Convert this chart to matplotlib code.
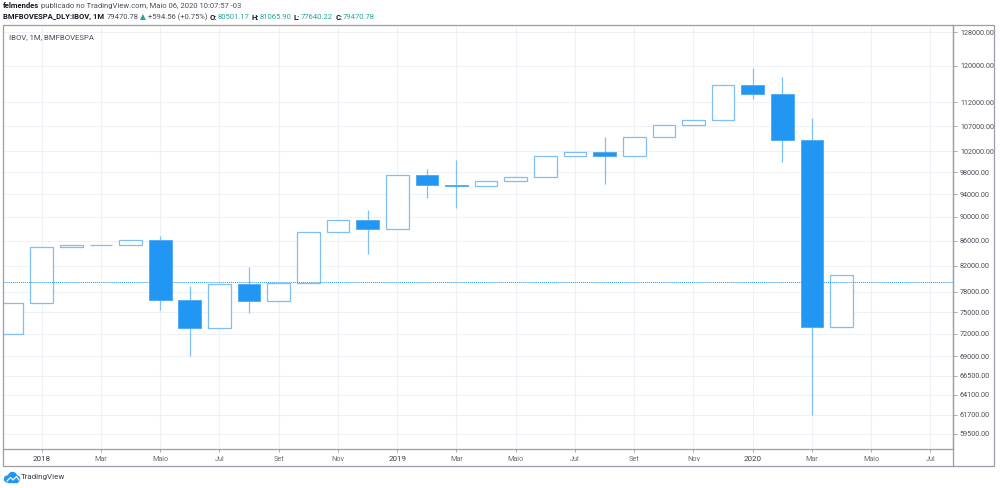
import matplotlib
matplotlib.use('Agg')
import matplotlib.pyplot as plt
from matplotlib.ticker import NullLocator, FixedLocator, FixedFormatter
from matplotlib.transforms import IdentityTransform
from matplotlib.patches import Rectangle, Circle
from matplotlib.lines import Line2D

plt.rcParams['font.family'] = ['Roboto', 'DejaVu Sans']

# monthly IBOV candles, Dec 2017 .. Apr 2020
months = ['2017-12', '2018-01', '2018-02', '2018-03', '2018-04', '2018-05', '2018-06',
          '2018-07', '2018-08', '2018-09', '2018-10', '2018-11', '2018-12', '2019-01',
          '2019-02', '2019-03', '2019-04', '2019-05', '2019-06', '2019-07', '2019-08',
          '2019-09', '2019-10', '2019-11', '2019-12', '2020-01', '2020-02', '2020-03',
          '2020-04']
opens = [71970, 76400, 84910, 85350, 85370, 86120, 76750, 72760, 79220, 76680,
         79340, 87420, 89500, 87890, 97390, 95580, 95410, 96350, 97030, 100970,
         101810, 101130, 104750, 107220, 108230, 115650, 113760, 104170, 73020]
closes = [76400, 84910, 85350, 85370, 86120, 76750, 72760, 79220, 76680, 79340,
          87420, 89500, 87890, 97390, 95580, 95410, 96350, 97030, 100970, 101810,
          101130, 104750, 107220, 108230, 115650, 113760, 104170, 73020, 80510]
# wicks only visible on the falling candles; rising ones use body bounds
highs = [76400, 84910, 85350, 85370, 86120, 86800, 78900, 79220, 81800, 79340,
         87420, 89500, 91200, 97390, 98600, 100300, 96350, 97030, 100970, 101810,
         104700, 104750, 107220, 108230, 115650, 119500, 117500, 108700, 80510]
lows = [71970, 76400, 84910, 85350, 85370, 75350, 69000, 72760, 74900, 76680,
        79340, 87420, 83900, 87890, 93350, 91600, 95410, 96350, 97030, 100970,
        95750, 101130, 104750, 107220, 108230, 112600, 99850, 61700, 73020]
last_price = 79470.78

y_ticks = [59500, 61700, 64100, 66500, 69000, 72000, 75000, 78000, 82000, 86000,
           90000, 94000, 98000, 102000, 107000, 112000, 120000, 128000]
x_tick_pos = list(range(0, 31, 2))
x_tick_labels = ['2018', 'Mar', 'Maio', 'Jul', 'Set', 'Nov',
                 '2019', 'Mar', 'Maio', 'Jul', 'Set', 'Nov',
                 '2020', 'Mar', 'Maio', 'Jul']

W, H = 1000, 488
BLUE = '#2196f3'
LIGHT = '#7dbff6'
TEAL = '#26a69a'
DARK = '#131722'
GRID = '#eef1f6'
FRAME = '#9a9ea6'

fig = plt.figure(figsize=(W / 100, H / 100), dpi=100)
fig.patch.set_facecolor('white')

# plot area in pixels (left, top, right, bottom)
pl, pt, pr, pb = 3, 25, 953, 449
ax = fig.add_axes([pl / W, 1 - pb / H, (pr - pl) / W, (pb - pt) / H])
ax.set_yscale('log')
ax.set_ylim(57820, 129720)
ax.set_xlim(-1.306, 30.76)

idx = [i - 1 for i in range(len(months))]   # Jan 2018 -> 0

ax.yaxis.set_major_locator(FixedLocator(y_ticks))
ax.yaxis.set_major_formatter(FixedFormatter([f'{v:.2f}' for v in y_ticks]))
ax.yaxis.set_minor_locator(NullLocator())
ax.yaxis.tick_right()
ax.tick_params(axis='y', length=3, width=0.6, color=FRAME, pad=2,
               labelsize=5.2, labelcolor='#4a4e57')
ax.set_xticks(x_tick_pos)
ax.set_xticklabels(x_tick_labels)
ax.tick_params(axis='x', length=2, width=0.6, color=FRAME, pad=3,
               labelsize=5.2, labelcolor='#6a6e77')
for lab in ax.get_xticklabels():
    if lab.get_text().isdigit():
        lab.set_color('#3a3e47')
        lab.set_fontsize(5.8)

ax.grid(True, color=GRID, lw=0.8, zorder=0)
ax.set_axisbelow(True)
for side in ['top', 'left']:
    ax.spines[side].set_visible(False)
ax.spines['right'].set_color(FRAME)
ax.spines['bottom'].set_color(FRAME)
ax.spines['right'].set_linewidth(0.9)
ax.spines['bottom'].set_linewidth(0.9)

width = 0.765
for x, o, h, l, c in zip(idx, opens, highs, lows, closes):
    lo, hi = min(o, c), max(o, c)
    if c < o:
        ax.vlines(x, l, h, color=LIGHT, lw=0.9, zorder=2)
        ax.bar(x, hi - lo, width, bottom=lo, color=BLUE, edgecolor='#4aa8f5',
               lw=0.6, zorder=3)
    else:
        ax.bar(x, max(hi - lo, 1), width, bottom=lo, color='white',
               edgecolor=LIGHT, lw=0.9, zorder=3)

ax.axhline(last_price, color=BLUE, lw=0.7, ls=(0, (1, 1)), zorder=4)

ax.text(0.006, 0.972, 'IBOV, 1M, BMFBOVESPA', transform=ax.transAxes,
        fontsize=5.6, color='#4a4e57', va='center', ha='left')

# outer frame and axis separators
fig.add_artist(Rectangle((3, H - 466), 991, 441, transform=IdentityTransform(),
                         fill=False, edgecolor=FRAME, lw=0.9))
fig.add_artist(Line2D([pr, pr], [H - 466, H - 25], transform=IdentityTransform(),
                      color=FRAME, lw=0.9))

# header lines
renderer = fig.canvas.get_renderer()


def rich(x, y, parts, size):
    for s, color, weight, gap in parts:
        t = fig.text(x, H - y, s, color=color, fontsize=size, fontweight=weight,
                     ha='left', va='center', transform=IdentityTransform())
        x += t.get_window_extent(renderer).width + gap


rich(3, 6, [('felmendes', DARK, 'bold', 1.5),
            ('publicado no TradingView.com, Maio 06, 2020 10:07:57 -03', '#4a4e57', 'normal', 0)],
     5.5)
rich(3, 17, [('BMFBOVESPA_DLY:IBOV, 1M', DARK, 'bold', 2.5),
             ('79470.78', '#4a4e57', 'normal', 1.5),
             ('\u25b2', TEAL, 'normal', 1.5),
             ('+594.56 (+0.75%)', '#4a4e57', 'normal', 2.5),
             ('O:', DARK, 'bold', 0.5), ('80501.17', TEAL, 'normal', 2.5),
             ('H:', DARK, 'bold', 0.5), ('81065.90', TEAL, 'normal', 2.5),
             ('L:', DARK, 'bold', 0.5), ('77640.22', TEAL, 'normal', 2.5),
             ('C:', DARK, 'bold', 0.5), ('79470.78', TEAL, 'normal', 0)],
     5.5)

# TradingView logo: small blue cloud with a white zigzag
for cx, cy, r in [(7.5, 479, 3.0), (12.5, 476.5, 4.0), (16.5, 479, 3.0)]:
    fig.add_artist(Circle((cx, H - cy), r, transform=IdentityTransform(), color=BLUE))
fig.add_artist(Rectangle((7.5, H - 482), 9, 3, transform=IdentityTransform(), color=BLUE))
fig.add_artist(Line2D([7, 10.5, 13, 16.5, 19], [H - 481, H - 477.5, H - 480, H - 476.5, H - 480],
                      transform=IdentityTransform(), color='white', lw=0.9))
fig.text(21, H - 477.5, 'TradingView', fontsize=5.8, color='#3a3e47', ha='left',
         va='center', transform=IdentityTransform())

fig.savefig('out.png', dpi=100, facecolor='white')
